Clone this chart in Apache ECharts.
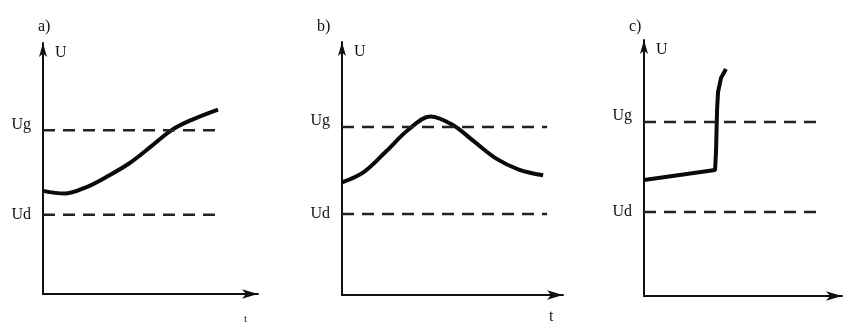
<!DOCTYPE html>
<html><head><meta charset="utf-8">
<script src="https://cdn.jsdelivr.net/npm/echarts@6/dist/echarts.min.js"></script>
<style>html,body{margin:0;padding:0;background:#fff}#c{width:845px;height:325px}</style>
</head><body><div id="c"></div>
<script>
// Panel titles
var panelTitles = ['a)', 'b)', 'c)'];
// Threshold levels (Ug upper, Ud lower) per panel, in % of axis height
var ugLevels = [65.2, 66.4, 68.0];
var udLevels = [31.6, 32.0, 32.8];
// Dashed threshold line end (x, % of axis width)
var dashEnds = [83.7, 92.8, 90.4];
// Curve a): x, U
var curveA = [[0,41.1],[10,40.0],[20,42.5],[30,46.9],[40,52.0],[50,58.6],[60,65.4],[70,69.7],[81.4,73.5]];
// Curve b)
var curveB = [[0,44.5],[10,48.7],[20,56.8],[30,65.3],[40,70.6],[50,67.3],[60,60.5],[70,53.8],[80,49.6],[91,47.3]];
// Curve c)
var curveC = [[0,45.3],[35.9,49.2],[36.4,57.0],[36.9,72.7],[37.4,79.7],[38.9,85.2],[41.4,88.7]];
var curves = [curveA, curveB, curveC];
var tNames = ['t', 't', ''];

var grids = [
  {left: 43, top: 43, width: 215, height: 255},
  {left: 342, top: 42, width: 221, height: 256},
  {left: 644, top: 40, width: 198, height: 256}
];
var font = '"Liberation Serif", "DejaVu Serif", serif';
var xAxes = [], yAxes = [], series = [], titles = [];
for (var i = 0; i < 3; i++) {
  xAxes.push({
    type: 'value', gridIndex: i, min: 0, max: 100,
    axisLine: {show: true, symbol: ['none', 'arrow'], symbolSize: [7, 16], lineStyle: {color: '#111', width: 2}},
    axisTick: {show: false}, axisLabel: {show: false}, splitLine: {show: false},
    name: tNames[i], nameLocation: 'end', nameGap: -14,
    nameTextStyle: {fontFamily: font, fontSize: i === 0 ? 11 : 16, color: '#222', verticalAlign: 'top', padding: [i === 0 ? 20 : 14, 0, 0, 0]}
  });
  yAxes.push({
    type: 'value', gridIndex: i, min: 0, max: 100,
    axisLine: {show: true, symbol: ['none', 'arrow'], symbolSize: [6, 14], lineStyle: {color: '#111', width: 2}},
    axisTick: {show: false}, splitLine: {show: false},
    axisLabel: {
      show: true, customValues: [ugLevels[i], udLevels[i]], margin: 12,
      formatter: function (v, idx) { return ugLevels.indexOf(v) >= 0 ? '{g|Ug}' : '{d|Ud}'; },
      rich: {
        g: {fontFamily: font, fontSize: 16, color: '#111', padding: [0, 0, 12, 0]},
        d: {fontFamily: font, fontSize: 16, color: '#111'}
      }
    },
    name: 'U', nameLocation: 'end', nameGap: -10,
    nameTextStyle: {fontFamily: font, fontSize: 16, color: '#111', align: 'left', verticalAlign: 'middle', padding: [0, 0, 0, 12]}
  });
  series.push({
    type: 'line', xAxisIndex: i, yAxisIndex: i, data: curves[i], showSymbol: false,
    smooth: i === 2 ? false : 0.35,
    lineStyle: {color: '#0a0a0a', width: 4}, silent: true, animation: false
  });
  series.push({
    type: 'line', xAxisIndex: i, yAxisIndex: i, data: [[0, ugLevels[i]], [dashEnds[i], ugLevels[i]]], showSymbol: false,
    lineStyle: {color: '#222', width: 2.5, type: [12, 8]}, silent: true, animation: false
  });
  series.push({
    type: 'line', xAxisIndex: i, yAxisIndex: i, data: [[0, udLevels[i]], [dashEnds[i], udLevels[i]]], showSymbol: false,
    lineStyle: {color: '#222', width: 2.5, type: [12, 8]}, silent: true, animation: false
  });
}
var titlePos = [[33, 14], [312, 14], [624, 14]];
for (var j = 0; j < 3; j++) {
  titles.push({text: panelTitles[j], left: titlePos[j][0], top: titlePos[j][1], textStyle: {fontFamily: font, fontSize: 16, fontWeight: 'normal', color: '#111'}});
}
var chart = echarts.init(document.getElementById('c'), null, {renderer: 'canvas'});
chart.setOption({
  animation: false, backgroundColor: '#fff',
  title: titles, grid: grids, xAxis: xAxes, yAxis: yAxes, series: series
});
</script></body></html>
